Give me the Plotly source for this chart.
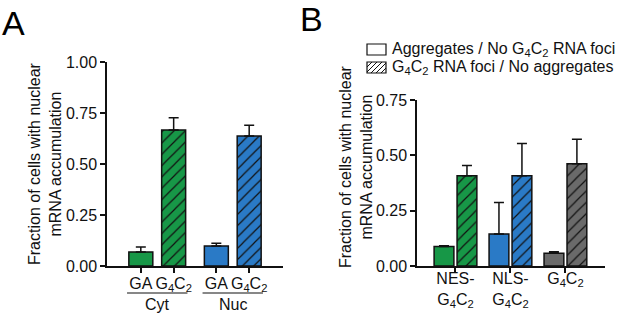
import plotly.graph_objects as go

# ---------------- data ----------------
G4C2 = "G<sub>4</sub>C<sub>2</sub>"

a_groups = ["Cyt", "Nuc"]
a_items = ["GA", G4C2]
a_values = [0.069, 0.667, 0.098, 0.637]      # Cyt-GA, Cyt-G4C2, Nuc-GA, Nuc-G4C2
a_errors = [0.024, 0.060, 0.013, 0.053]
a_yticks = [0, 0.25, 0.5, 0.75, 1.0]
a_yticklabels = ["0.00", "0.25", "0.50", "0.75", "1.00"]

b_groups = ["NES-<br>" + G4C2, "NLS-<br>" + G4C2, G4C2]
b_aggr = [0.088, 0.145, 0.058]               # Aggregates / No G4C2 RNA foci
b_aggr_err = [0.003, 0.142, 0.006]
b_foci = [0.408, 0.408, 0.462]               # G4C2 RNA foci / No aggregates
b_foci_err = [0.046, 0.145, 0.111]
b_yticks = [0, 0.25, 0.5, 0.75]
b_yticklabels = ["0.00", "0.25", "0.50", "0.75"]

legend_labels = ["Aggregates / No " + G4C2 + " RNA foci",
                 G4C2 + " RNA foci / No aggregates"]
y_title = "Fraction of cells with nuclear<br>mRNA accumulation"

# ---------------- styles ----------------
W, H = 617, 313
GREEN, BLUE, GREY = "#179747", "#2a7ac6", "#6a6a6a"
a_colors = [GREEN, BLUE]
b_colors = [GREEN, BLUE, GREY]
FONT = "Liberation Sans, Arial, sans-serif"
FS = 16
INK = "#111111"


def px(x):
    return x / W


def py(y):
    return 1 - y / H


fig = go.Figure()


def add_bar(x, y, err, color, hatched, xa, ya, width):
    fig.add_trace(go.Bar(
        x=[x], y=[y], width=width,
        marker=dict(color=color, line=dict(color=INK, width=1.5),
                    pattern=dict(shape="/" if hatched else "", fillmode="replace",
                                 bgcolor=color, fgcolor=INK, size=8, solidity=0.15)),
        error_y=dict(type="data", symmetric=False, array=[err], arrayminus=[0],
                     color=INK, thickness=1.5, width=5),
        xaxis=xa, yaxis=ya, showlegend=False,
    ))


# ---- panel A ----
a_x = []
k = 0
for g in range(len(a_groups)):
    for i in range(len(a_items)):
        xv = g * 2.3 + i
        a_x.append(xv)
        add_bar(xv, a_values[k], a_errors[k], a_colors[g], i == 1, "x", "y", 0.73)
        k += 1

# ---- panel B ----
for i, (vals, errs) in enumerate([(b_aggr, b_aggr_err), (b_foci, b_foci_err)]):
    for g in range(len(b_groups)):
        add_bar(g + (i - 0.5) * 0.418, vals[g], errs[g], b_colors[g], i == 1, "x2", "y2", 0.36)

axis_common = dict(showline=True, linecolor=INK, linewidth=1.5, ticks="outside",
                   ticklen=5, tickwidth=1.5, tickcolor=INK, showgrid=False, zeroline=False,
                   automargin=False, tickfont=dict(family=FONT, size=FS, color=INK))

fig.update_layout(
    width=W, height=H, margin=dict(l=0, r=0, t=0, b=0),
    paper_bgcolor="white", plot_bgcolor="white",
    font=dict(family=FONT, size=FS, color=INK),
    barmode="overlay",
    xaxis=dict(domain=[px(107), px(283)], range=[-1.03, 4.33], anchor="y",
               tickvals=a_x, ticktext=a_items * len(a_groups), ticklabelstandoff=-3,
               **axis_common),
    yaxis=dict(domain=[py(266), py(62)], range=[0, 1.0], anchor="x",
               tickvals=a_yticks, ticktext=a_yticklabels, **axis_common),
    xaxis2=dict(domain=[px(417), px(605)], range=[-0.7, 2.72], anchor="y2",
                tickvals=list(range(len(b_groups))), ticktext=b_groups,
                ticklabelstandoff=-8, **axis_common),
    yaxis2=dict(domain=[py(266), py(100)], range=[0, 0.75], anchor="x2",
                tickvals=b_yticks, ticktext=b_yticklabels, **axis_common),
)

shapes = []
annotations = []

# group underlines + labels in panel A
for g, name in enumerate(a_groups):
    x0 = g * 2.3 - 0.42
    x1 = g * 2.3 + (len(a_items) - 1) + 0.42
    shapes.append(dict(type="line", xref="x", yref="paper", x0=x0, x1=x1,
                       y0=py(293), y1=py(293), line=dict(color=INK, width=1.2)))
    annotations.append(dict(text=name, xref="x", yref="paper", x=(x0 + x1) / 2, y=py(304),
                            xanchor="center", yanchor="middle", showarrow=False,
                            font=dict(family=FONT, size=FS, color=INK)))

# y titles
for xc, yc in [(45, 163), (356, 167)]:
    annotations.append(dict(text=y_title, xref="paper", yref="paper", x=px(xc), y=py(yc),
                            xanchor="center", yanchor="middle", textangle=-90,
                            showarrow=False, font=dict(family=FONT, size=FS, color=INK)))

# panel letters
annotations.append(dict(text="A", xref="paper", yref="paper", x=px(0), y=py(2),
                        xanchor="left", yanchor="top", showarrow=False,
                        font=dict(family=FONT, size=34, color="black")))
annotations.append(dict(text="B", xref="paper", yref="paper", x=px(298), y=py(-2),
                        xanchor="left", yanchor="top", showarrow=False,
                        font=dict(family=FONT, size=34, color="black")))

# manual legend
rows = [(44, 55), (62, 73)]
sx0, sx1 = 367, 386
for k, ((t, b), label) in enumerate(zip(rows, legend_labels)):
    shapes.append(dict(type="rect", xref="paper", yref="paper", x0=px(sx0), x1=px(sx1),
                       y0=py(b), y1=py(t), line=dict(color=INK, width=1.2), fillcolor="white"))
    if k == 1:
        h = b - t
        step = 5
        start = sx0 - h
        while start < sx1:
            xa, ya, xb, yb = start, b, start + h, t
            if xa < sx0:
                ya = b - (sx0 - xa)
                xa = sx0
            if xb > sx1:
                yb = t + (xb - sx1)
                xb = sx1
            if xb > xa:
                shapes.append(dict(type="line", xref="paper", yref="paper",
                                   x0=px(xa), y0=py(ya), x1=px(xb), y1=py(yb),
                                   line=dict(color=INK, width=1)))
            start += step
    annotations.append(dict(text=label, xref="paper", yref="paper", x=px(390),
                            y=py((t + b) / 2), xanchor="left", yanchor="middle",
                            showarrow=False, font=dict(family=FONT, size=FS, color=INK)))

fig.update_layout(shapes=shapes, annotations=annotations)
fig.write_html("out.html", config={"displayModeBar": False},
               post_script=["document.body.style.margin='0';"])
